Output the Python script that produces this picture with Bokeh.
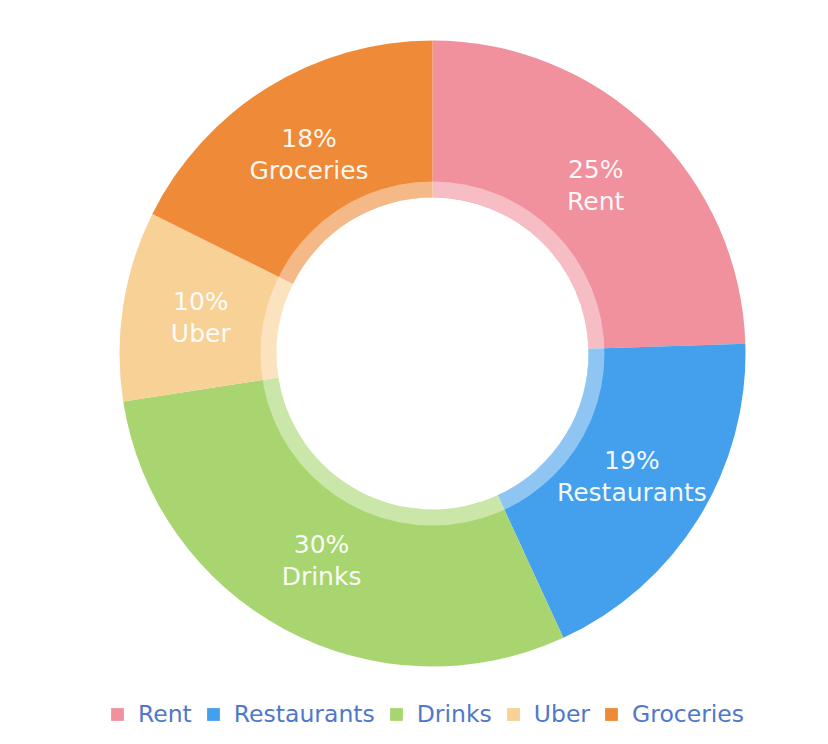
import math
from bokeh.plotting import figure
from bokeh.models import Legend, LegendItem, ColumnDataSource, Range1d
from bokeh.core.properties import value
from bokeh.embed import file_html
from bokeh.resources import INLINE

categories = ["Rent", "Restaurants", "Drinks", "Uber", "Groceries"]
values = [25, 19, 30, 10, 18]
pct_labels = ["25%", "19%", "30%", "10%", "18%"]
colors = ["#F0919D", "#449FEC", "#A9D571", "#F8D196", "#EF8B38"]

W, H = 828, 744
CX, CY = 432, 744 - 353
R_OUT, R_IN, R_RING = 313, 156, 172
FONT = "DejaVu Sans"

p = figure(width=W, height=H, output_backend="svg", toolbar_location=None,
           x_range=Range1d(0, W), y_range=Range1d(0, H), min_border=0)
p.axis.visible = False
p.grid.visible = False
p.outline_line_color = None
p.background_fill_color = "white"

total = sum(values)
starts, ends, lx, ly = [], [], [], []
acc = 0.0
for v in values:
    a0 = math.pi / 2 - 2 * math.pi * acc / total
    acc += v
    a1 = math.pi / 2 - 2 * math.pi * acc / total
    starts.append(a0)
    ends.append(a1)
    mid = (a0 + a1) / 2
    rm = (R_IN + R_OUT) / 2
    lx.append(CX + rm * math.cos(mid))
    ly.append(CY + rm * math.sin(mid))

src = ColumnDataSource(dict(start=starts, end=ends, color=colors,
                            x=[CX] * 5, y=[CY] * 5))
p.annular_wedge(x="x", y="y", inner_radius=R_IN, outer_radius=R_OUT,
                start_angle="start", end_angle="end", direction="clock",
                fill_color="color", line_color=None, source=src)
p.annulus(x=[CX], y=[CY], inner_radius=R_IN, outer_radius=R_RING,
          fill_color="white", fill_alpha=0.4, line_color=None)

p.text(x=lx, y=[y + 16 for y in ly], text=pct_labels, text_align="center",
       text_baseline="middle", text_color="white", text_font=value(FONT),
       text_font_size="25px", text_alpha=0.95)
p.text(x=lx, y=[y - 16 for y in ly], text=categories, text_align="center",
       text_baseline="middle", text_color="white", text_font=value(FONT),
       text_font_size="25px", text_alpha=0.95)

items = []
for c, col in zip(categories, colors):
    r = p.quad(left=[float("nan")], right=[float("nan")], bottom=[float("nan")],
               top=[float("nan")], fill_color=col, line_color=None)
    items.append(LegendItem(label=c, renderers=[r]))
legend = Legend(items=items, orientation="horizontal", location=(109, 16),
                label_text_font=FONT, label_text_font_size="23.5px",
                label_text_color="#4F78CC", glyph_width=16, glyph_height=16,
                label_standoff=13, spacing=13, border_line_color=None,
                background_fill_alpha=0, padding=0, margin=0)
p.add_layout(legend, "center")

open("out.html", "w").write(file_html(p, INLINE))
